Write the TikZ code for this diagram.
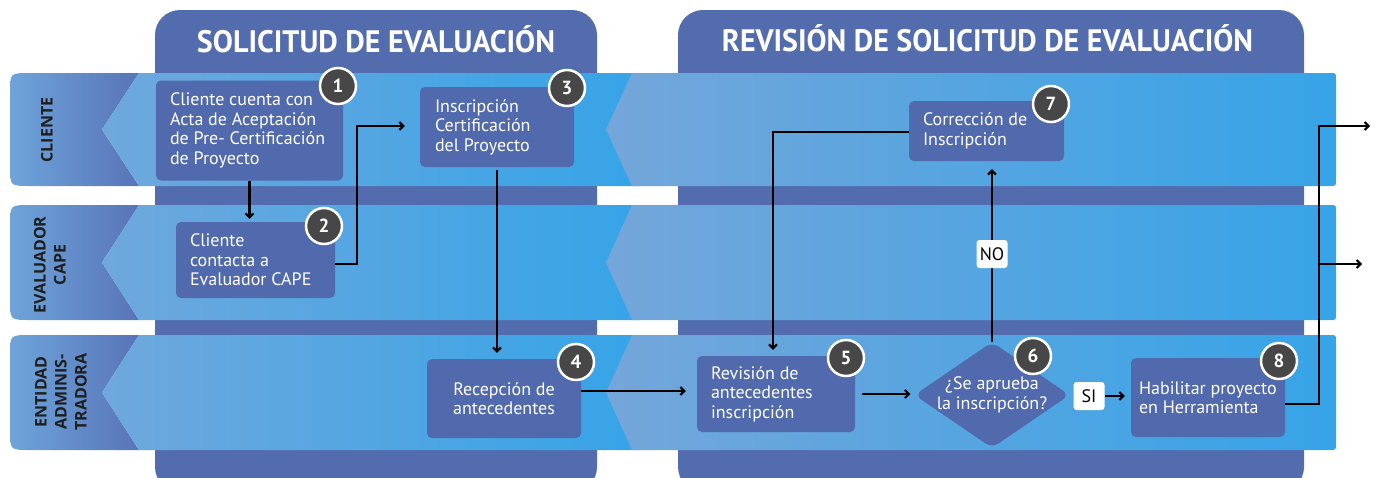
\documentclass[tikz,border=0pt]{standalone}
\usepackage{fontspec}
\setmainfont{PT Sans}
\newfontfamily\lanefont{Open Sans}
\usetikzlibrary{arrows.meta,shapes.geometric,calc}
\definecolor{panelblue}{HTML}{526CAE}
\definecolor{boxblue}{HTML}{5169AD}
\definecolor{lanelight}{HTML}{6FA8DD}
\definecolor{lanebright}{HTML}{36A4E7}
\definecolor{chevlight}{HTML}{74A6DA}
\definecolor{headlight}{HTML}{6EA4DA}
\definecolor{headdark}{HTML}{5874B8}
\definecolor{badgegray}{HTML}{474747}
\definecolor{labelink}{HTML}{1E1E1E}
\begin{document}
\begin{tikzpicture}[x=1pt,y=-1pt,
  flow/.style={draw=black, line width=2.2pt, -{Straight Barb[length=4pt,width=8pt,line width=2pt]}},
  box/.style={fill=boxblue, rounded corners=5pt, inner sep=0pt},
  boxtext/.style={text=white, align=left, inner sep=0pt, anchor=west, font=\fontsize{18}{19.5}\selectfont},
  badge/.style={circle, fill=badgegray, draw=white, line width=2.5pt, minimum size=36pt, inner sep=0pt, text=white, font=\bfseries\fontsize{19}{19}\selectfont},
  lanelabel/.style={rotate=90, align=center, text=labelink, inner sep=0pt, font=\lanefont\bfseries\fontsize{16}{20}\selectfont},
  titletext/.style={text=white, inner sep=0pt, anchor=base, font=\bfseries\fontsize{31}{31}\selectfont},
  tag/.style={fill=white, rounded corners=3pt, text=black, minimum width=31pt, minimum height=28pt, inner sep=1pt, font=\fontsize{18}{18}\selectfont}]
\useasboundingbox (0,0) rectangle (1376,477);
\clip (0,0) rectangle (1376,477);
% panels
\fill[panelblue, rounded corners=25pt] (155,10) rectangle (597,492);
\fill[panelblue, rounded corners=25pt] (678,10) rectangle (1304,492);
% lanes
\foreach \T/\B/\M in {73/186/129.5, 205/320/262.5, 335/450/392.5}{
  \shade[left color=headlight, right color=headdark]
    (139,\T) -- (30,\T) .. controls (10,\T) .. (10,\T+20) -- (10,\B-20) .. controls (10,\B) .. (30,\B) -- (139,\B) -- (102,\M) -- cycle;
  \shade[left color=lanelight, right color=lanebright]
    (139,\T) -- (640,\T) -- (640,\B) -- (139,\B) -- (102,\M) -- cycle;
  \shade[left color=chevlight, right color=lanebright]
    (632,\T) -- (1330,\T) .. controls (1336,\T) .. (1336,\T+6) -- (1336,\B-6) .. controls (1336,\B) .. (1330,\B) -- (632,\B) -- (606,\M) -- cycle;
}
% titles
\node[titletext] (title1) at (376,52) {\resizebox{358pt}{\height}{SOLICITUD DE EVALUACIÓN}};
\node[titletext] (title2) at (987.5,51) {\resizebox{531pt}{\height}{REVISIÓN DE SOLICITUD DE EVALUACIÓN}};
% lane labels
\node[lanelabel] (lab1) at (47,130) {CLIENTE};
\node[lanelabel] (lab2) at (50,265) {EVALUADOR\\CAPE};
\node[lanelabel] (lab3) at (61,392) {ENTIDAD\\ADMINIS-\\TRADORA};
% boxes
\node[box, minimum width=187pt, minimum height=100pt] (b1) at (249.5,130.5) {};
\node[boxtext] (t1) at ($(b1.west)+(14,0)$) {Cliente cuenta con\\Acta de Aceptación\\de Pre- Certificación\\de Proyecto};
\node[box, minimum width=159pt, minimum height=76pt] (b2) at (255.5,260) {};
\node[boxtext] (t2) at ($(b2.west)+(14,0)$) {Cliente\\contacta a\\Evaluador CAPE};
\node[box, minimum width=154pt, minimum height=80pt] (b3) at (497,127) {};
\node[boxtext] (t3) at ($(b3.west)+(15,0)$) {Inscripción\\Certificación\\del Proyecto};
\node[box, minimum width=154pt, minimum height=79pt] (b4) at (504,398.5) {};
\node[boxtext, anchor=center, align=center] (t4) at (b4.center) {Recepción de\\antecedentes};
\node[box, minimum width=158pt, minimum height=76pt] (b5) at (776,394) {};
\node[boxtext] (t5) at ($(b5.west)+(14,0)$) {Revisión de\\antecedentes\\inscripción};
\node[box, minimum width=155pt, minimum height=60pt] (b7) at (986.5,131) {};
\node[boxtext] (t7) at ($(b7.west)+(14,0)$) {Corrección de\\Inscripción};
\node[box, minimum width=154pt, minimum height=79pt] (b8) at (1208,397.5) {};
\node[boxtext] (t8) at ($(b8.west)+(8,0)$) {Habilitar proyecto\\en Herramienta};
\node[diamond, fill=boxblue, rounded corners=8pt, minimum width=155pt, minimum height=106pt, inner sep=0pt] (d6) at (992,395) {};
\node[boxtext, anchor=center, align=center] (t6) at (d6.center) {¿Se aprueba\\la inscripción?};
% connectors
\coordinate (c23) at (357,126);
\coordinate (j8) at (1319,126);
\coordinate (j8b) at (1319,264);
\coordinate (out1) at (1370,126);
\coordinate (out2) at (1362,264);
\draw[flow] (b1.south) -- ($(b1.south |- b2.north)+(0,-3)$);
\draw[flow] ($(b2.east)+(0,4)$) -| (c23) -- ($(b3.west |- c23)+(-15,0)$);
\draw[flow] ($(b3.south)+(0,3)$) -- ($(b3.south |- b4.north)+(0,-6)$);
\draw[flow] ($(b4.east)+(0,-7.5)$) -- ($(b5.west)+(-11,-3)$);
\draw[flow] ($(b5.east)+(7,0)$) -- ($(b5.east -| d6.west)+(-4,0)$);
\draw[flow] (d6.north) -- ($(d6.north |- b7.south)+(0,8)$);
\draw[flow] ($(b7.west)+(0,1)$) -| ($(b5.north)+(-3,-6)$);
\draw[flow] ($(b8.east)+(0,6.5)$) -| (j8) -- (out1);
\draw[flow] (j8b) -- (out2);
\node[tag] (no) at (992,254) {NO};
\node[tag] (si) at (1089,396) {SI};
\draw[flow] (si.east) -- ($(si.east -| b8.west)+(-6,0)$);
% badges
\node[badge] (n1) at (338,86) {1};
\node[badge] (n2) at (324,226) {2};
\node[badge] (n3) at (567,88) {3};
\node[badge] (n4) at (576,362) {4};
\node[badge] (n5) at (846,358) {5};
\node[badge] (n6) at (1033,356) {6};
\node[badge] (n7) at (1051,104) {7};
\node[badge] (n8) at (1279,361) {8};
\end{tikzpicture}
\end{document}
